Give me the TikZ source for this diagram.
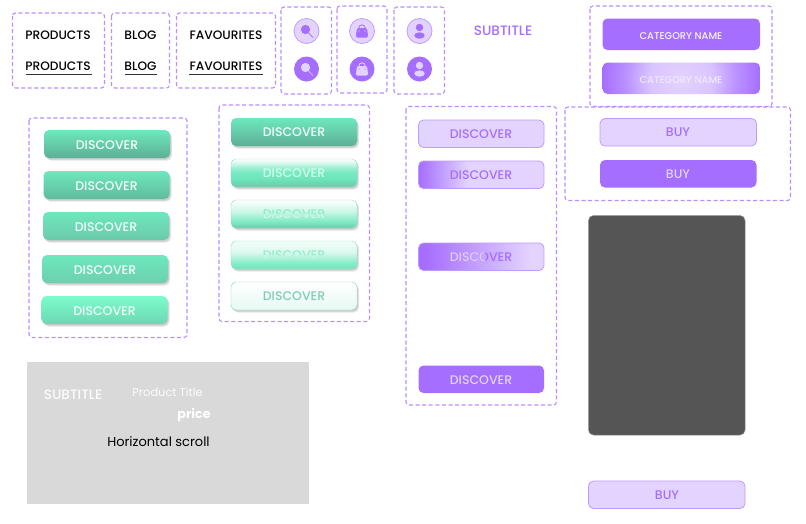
\documentclass[tikz,border=0pt]{standalone}
\usepackage{fontspec}
\setmainfont{Poppins Medium}[BoldFont=Poppins Bold]
\newfontfamily\regfont{Poppins}
\usetikzlibrary{calc}
\definecolor{purp}{HTML}{A56EFF}
\definecolor{lilac}{HTML}{E3D3FF}
\definecolor{dashc}{HTML}{B98EFF}
\definecolor{edgec}{HTML}{C09BFF}
\definecolor{mint}{HTML}{7CFCCB}
\definecolor{mintb}{HTML}{6EE8BC}
\definecolor{tealm}{HTML}{5DAF96}
\definecolor{tealn}{HTML}{6CC9AB}
\definecolor{pale}{HTML}{E6F9F2}
\definecolor{grayd}{HTML}{555555}
\definecolor{grayl}{HTML}{D9D9D9}
\pgfdeclareverticalshading{fadeA}{100bp}{color(0bp)=(tealn); color(25bp)=(tealn); color(40bp)=(mintb!92!tealn); color(50bp)=(mintb!95!white); color(59bp)=(mintb!70!white); color(67.5bp)=(mintb!30!white); color(75bp)=(white); color(100bp)=(white)}
\pgfdeclareverticalshading{fadeB}{100bp}{color(0bp)=(tealn); color(25bp)=(tealn); color(36bp)=(mintb!90!white); color(55bp)=(mintb!35!white); color(75bp)=(white); color(100bp)=(white)}
\pgfdeclareverticalshading{fadeC}{100bp}{color(0bp)=(mintb!90!tealn); color(25bp)=(mintb!90!tealn); color(35bp)=(mintb!85!white); color(55bp)=(mintb!25!white); color(75bp)=(pale!50!white); color(100bp)=(pale!50!white)}
\pgfdeclareradialshading{catglow}{\pgfpoint{0bp}{0bp}}{color(0bp)=(lilac); color(10bp)=(lilac!85!purp); color(17.5bp)=(lilac!35!purp); color(25bp)=(purp); color(50bp)=(purp)}
\tikzset{x=1pt,y=-1pt,
 dashbox/.style={draw=dashc,line width=1.1pt,dash pattern=on 4pt off 2.6pt,rounded corners=3pt},
 btnshadow/.style={preaction={fill=black,fill opacity=0.10,transform canvas={xshift=1pt,yshift=-1.5pt}},preaction={fill=black,fill opacity=0.10,transform canvas={xshift=2pt,yshift=-2.5pt}}},
 lbl/.style={font=\fontsize{12.5}{14}\selectfont,inner sep=0pt,anchor=center,yshift=-0.4pt},
 navl/.style={font=\fontsize{12.2}{14}\selectfont,inner sep=0pt,anchor=center,text=black},
 catl/.style={font=\fontsize{9.8}{12}\selectfont,inner sep=0pt},
 subl/.style={font=\fontsize{13.6}{16}\selectfont,inner sep=0pt},
 btnline/.style={line width=0.8pt,rounded corners=5pt},
 round5/.style={rounded corners=5pt},
 icona/.style={circle,minimum size=25pt,inner sep=0pt,draw=edgec,fill=lilac,line width=0.8pt},
 iconb/.style={circle,minimum size=25pt,inner sep=0pt,fill=purp},
}
\newcommand{\greenbtn}[6]{%
 \shade[btnshadow,round5,top color=#3,bottom color=#4] (#1,#2) rectangle +(126,28);
 \node[lbl,text=#6] (#5) at (#1+63,#2+14.5) {DISCOVER};
}
% bag icon: x, y of centre, colour, dot colour
\newcommand{\bagicon}[4]{%
 \fill[#3,rounded corners=1.5pt] (#1-5,#2-4) -- (#1+5,#2-4) -- (#1+6.2,#2+5.5) -- (#1-6.2,#2+5.5) -- cycle;
 \draw[#3,line width=0.8pt] (#1-3.2,#2-4) arc[start angle=180,end angle=360,radius=3.2];
 \fill[#4] (#1-3,#2-1) circle (0.7); \fill[#4] (#1+3,#2-1) circle (0.7);
}
\begin{document}
\begin{tikzpicture}
\useasboundingbox (0,0) rectangle (806,523);
\fill[white] (0,0) rectangle (806,523);
% dashed boxes
\draw[dashbox] (12.5,13) rectangle (104.5,88);
\draw[dashbox] (111.5,13) rectangle (169.5,88);
\draw[dashbox] (176.5,13) rectangle (275.5,88);
\draw[dashbox] (281,7) rectangle (331.5,94);
\draw[dashbox] (337,6) rectangle (387,93);
\draw[dashbox] (394,7) rectangle (444.5,94);
\draw[dashbox] (590,6) rectangle (772,106.5);
\draw[dashbox] (565,107) rectangle (790.5,200.5);
\draw[dashbox] (29,118) rectangle (187,337.5);
\draw[dashbox] (219,105) rectangle (369.5,321.5);
\draw[dashbox] (406,106.5) rectangle (556.5,405);
% nav
\node[navl] (n1) at (58,35) {PRODUCTS};
\node[navl] (n2) at (58,66.5) {PRODUCTS};
\node[navl] (n3) at (140.5,35) {BLOG};
\node[navl] (n4) at (140.5,66.5) {BLOG};
\node[navl] (n5) at (226,35) {FAVOURITES};
\node[navl] (n6) at (226,66.5) {FAVOURITES};
\fill[black!80] (25.5,73.5) rectangle (91.5,74.5);
\fill[black!80] (124.5,73.5) rectangle (156.5,74.5);
\fill[black!80] (189,73.5) rectangle (263,74.5);
% icons
\node[icona] (ia) at (306.5,31) {};
\node[iconb] (ib) at (306.5,69) {};
\node[icona] (ic) at (362,31) {};
\node[iconb] (id) at (362,69) {};
\node[icona] (ie) at (419.5,31) {};
\node[iconb] (if) at (419.5,69) {};
% search
\fill[purp] (305.5,29.5) circle (4.6);
\draw[purp!80!black,line width=0.7pt] (308.5,33) -- (313,37.5);
\fill[lilac] (305.5,67.5) circle (4.6);
\draw[lilac,line width=0.7pt] (308.5,71) -- (313,75.5);
% bag
\bagicon{362}{32}{purp}{lilac}
\bagicon{362}{70}{lilac}{purp}
% person
\fill[purp] (419.5,27.5) circle (3.7);
\fill[purp] (419.5,35.5) ellipse (5.2 and 3.2);
\fill[lilac] (419.5,65.5) circle (3.7);
\fill[lilac] (419.5,73.5) ellipse (5.2 and 3.2);
% subtitle
\node[subl,text=purp] (st) at (503,31) {SUBTITLE};
% category
\fill[purp,rounded corners=5pt] (602.5,18.5) rectangle (760,50);
\node[catl,text=white!92!purp] (c1) at (681,36) {CATEGORY NAME};
\begin{scope}
\clip[rounded corners=5pt] (602.5,62.5) rectangle (760,94);
\shade[shading=catglow] (601.5,-0.5) rectangle (760.5,158.5);
\end{scope}
\node[catl,text=white!85!purp] (c2) at (681,80) {CATEGORY NAME};
% buy
\filldraw[draw=edgec,fill=lilac,btnline] (600,118.5) rectangle (756.5,146);
\node[lbl,text=purp] (b1) at (678,132) {BUY};
\fill[purp,rounded corners=5pt] (600,160) rectangle (756.5,187.5);
\node[lbl,text=lilac] (b2) at (678,174) {BUY};
\filldraw[draw=edgec,fill=lilac,btnline] (588.5,481) rectangle (745,508.5);
\node[lbl,text=purp] (b3) at (667,494.5) {BUY};
% dark panel
\filldraw[draw=black!45,fill=grayd,line width=0.5pt,rounded corners=5pt] (588.5,215.5) rectangle (745,435);
% green column 1
\greenbtn{44}{130}{mintb}{tealm}{g1}{white!90!mint}
\greenbtn{43.5}{171}{mintb}{tealm!80!mintb}{g2}{white!90!mint}
\greenbtn{43}{212}{mintb}{tealn}{g3}{white!90!mint}
\greenbtn{42}{255}{mintb}{tealn!80!mintb}{g4}{white!90!mint}
\greenbtn{41.5}{296}{mint}{tealn!55!mintb}{g5}{white!90!mint}
% green column 2
\shade[btnshadow,round5,top color=mintb,bottom color=tealm] (231,118) rectangle +(126,28);
\node[lbl,text=white!90!mint] (h1) at (294,132) {DISCOVER};
\shade[btnshadow,round5,draw=tealn!70!white,shading=fadeA] (231,159) rectangle +(126,28);
\node[lbl,text=white!65!mint] (h2) at (294,173) {DISCOVER};
\shade[btnshadow,round5,draw=tealn!70!white,shading=fadeB] (231,200) rectangle +(126,28);
\node[lbl,text=mintb!80!white] (h3) at (294,214) {DISCOVER};
\begin{scope}
\clip (231,214.5) rectangle (357,228);
\node[lbl,text=white!70!mintb] at (294,214) {DISCOVER};
\end{scope}
\shade[btnshadow,round5,draw=tealn!70!white,shading=fadeC] (231,241) rectangle +(126,28);
\node[lbl,text=mintb!75!white] (h4) at (294,255) {DISCOVER};
\begin{scope}
\clip (231,255.5) rectangle (357,269);
\node[lbl,text=white!55!mintb] at (294,255) {DISCOVER};
\end{scope}
\shade[btnshadow,round5,draw=tealn!80!white,top color=white,bottom color=pale] (231,282) rectangle +(126,28);
\node[lbl,text=tealn!90!white] (h5) at (294,296) {DISCOVER};
% purple column
\filldraw[draw=edgec,fill=lilac,btnline] (418.5,120) rectangle (544,147.5);
\node[lbl,text=purp] (p1) at (481,134) {DISCOVER};
\begin{scope}
\clip[rounded corners=5pt] (418.5,161) rectangle (544,188.5);
\fill[lilac] (418.5,161) rectangle (544,188.5);
\fill[left color=purp,right color=lilac] (418.5,161) rectangle (468,188.5);
\end{scope}
\draw[edgec,btnline] (418.5,161) rectangle (544,188.5);
\node[lbl,text=purp] (p2) at (481,175) {DISCOVER};
\begin{scope}
\clip[rounded corners=5pt] (418.5,243) rectangle (544,270.5);
\fill[lilac] (418.5,243) rectangle (544,270.5);
\fill[left color=purp,right color=lilac] (425,243) rectangle (530,270.5);
\fill[purp] (418.5,243) rectangle (425.2,270.5);
\end{scope}
\draw[edgec,btnline] (418.5,243) rectangle (544,270.5);
\node[lbl,text=purp] (p3) at (481,257) {DISCOVER};
\begin{scope}
\clip (440,243) rectangle (484,270.5);
\node[lbl,text=lilac] at (481,257) {DISCOVER};
\end{scope}
\fill[purp,rounded corners=5pt] (418.5,365.5) rectangle (544,393);
\node[lbl,text=lilac] (p4) at (481,379.5) {DISCOVER};
% grey panel
\fill[grayl] (27,362) rectangle (308.5,503.5);
\node[subl,text=white!92!grayl] (s1) at (73,394.5) {SUBTITLE};
\node[font=\regfont\fontsize{11.4}{14}\selectfont,inner sep=0pt,text=white!92!grayl] (s2) at (167.5,392.5) {Product Title};
\node[font=\bfseries\fontsize{12.6}{15}\selectfont,inner sep=0pt,text=white] (s3) at (194,415.5) {price};
\node[font=\regfont\fontsize{13}{15}\selectfont,inner sep=0pt,text=black] (s4) at (158.5,441.5) {Horizontal scroll};
\end{tikzpicture}
\end{document}
